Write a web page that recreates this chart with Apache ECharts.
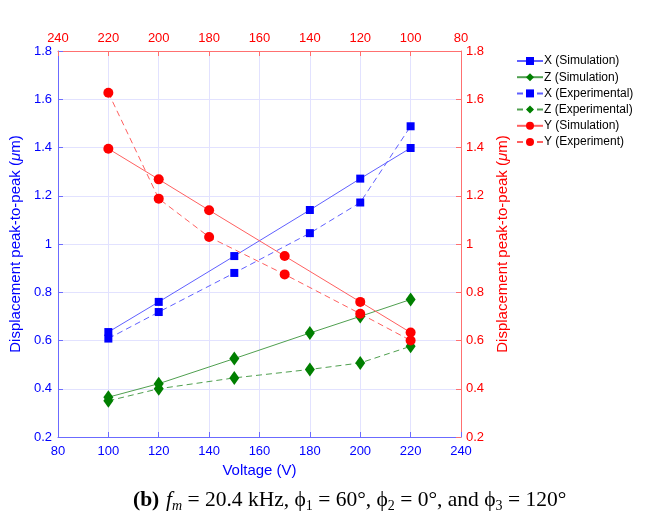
<!DOCTYPE html>
<html>
<head>
<meta charset="utf-8">
<script src="https://cdn.jsdelivr.net/npm/echarts@6/dist/echarts.min.js"></script>
<style>
  html, body { margin: 0; padding: 0; background: #fff; }
  #demo { width: 646px; height: 519px; }
</style>
</head>
<body>
<div id="demo"></div>
<script>
// 底部电压轴 (X, Z)
var voltageBottom = [100, 120, 150, 180, 200, 220];
var xSim = [0.635, 0.76, 0.95, 1.141, 1.271, 1.398];
var xExp = [0.608, 0.718, 0.88, 1.045, 1.172, 1.488];
var zSim = [0.365, 0.421, 0.525, 0.631, 0.70, 0.77];
var zExp = [0.35, 0.40, 0.445, 0.48, 0.507, 0.576];
// 顶部电压轴 (Y)
var voltageTop = [220, 200, 180, 150, 120, 100];
var ySim = [1.395, 1.268, 1.14, 0.95, 0.76, 0.633];
var yExp = [1.627, 1.188, 1.029, 0.874, 0.711, 0.60];

var seriesNames = ['X (Simulation)', 'Z (Simulation)', 'X (Experimental)',
                   'Z (Experimental)', 'Y (Simulation)', 'Y (Experiment)'];

function pairs(xs, ys) {
    var out = [];
    for (var i = 0; i < xs.length; i++) {
        out.push([xs[i], ys[i]]);
    }
    return out;
}

var BLUE = '#0000ff';
var RED = '#ff0000';
var GREEN = '#007f00';
var FONT = 'Liberation Sans';

function makeSeries(name, data, color, lineColor, dashed, symbol, size, top) {
    return {
        name: name,
        type: 'line',
        xAxisIndex: top ? 1 : 0,
        yAxisIndex: top ? 1 : 0,
        data: data,
        symbol: symbol,
        symbolSize: size,
        showAllSymbol: true,
        itemStyle: { color: color },
        lineStyle: { color: lineColor, width: 1, type: dashed ? [6, 4] : 'solid' },
        animation: false
    };
}

var chartDom = document.getElementById('demo');
var myChart = echarts.init(chartDom);
var option = {
    backgroundColor: '#fff',
    grid: { left: 56, top: 51, width: 405, height: 386 },
    legend: {
        orient: 'vertical',
        left: 516,
        top: 55,
        padding: 0,
        itemWidth: 26,
        itemHeight: 10,
        itemGap: 4.2,
        textStyle: { fontFamily: FONT, fontSize: 12, color: '#000', padding: [0, 0, 0, -4] },
        data: seriesNames
    },
    xAxis: [
        {
            type: 'value', position: 'bottom', min: 80, max: 240, interval: 20,
            name: 'Voltage (V)', nameLocation: 'middle', nameGap: 26,
            nameTextStyle: { color: BLUE, fontFamily: FONT, fontSize: 15 },
            axisLine: { lineStyle: { color: '#6b6bff', width: 1 } },
            axisTick: { inside: true, length: 5, lineStyle: { color: '#6b6bff' } },
            axisLabel: { color: BLUE, fontFamily: FONT, fontSize: 13, margin: 8 },
            splitLine: { show: true, lineStyle: { color: '#e2e2ff', width: 1 } }
        },
        {
            type: 'value', position: 'top', min: 80, max: 240, interval: 20, inverse: true,
            axisLine: { lineStyle: { color: '#ff7070', width: 1 } },
            axisTick: { inside: true, length: 5, lineStyle: { color: '#ff7070' } },
            axisLabel: { color: RED, fontFamily: FONT, fontSize: 13, margin: 6 },
            splitLine: { show: false }
        }
    ],
    yAxis: [
        {
            type: 'value', position: 'left', min: 0.2, max: 1.8, interval: 0.2,
            name: 'Displacement peak-to-peak ({i|μ}m)', nameLocation: 'middle', nameGap: 29,
            nameTextStyle: {
                color: BLUE, fontFamily: FONT, fontSize: 15,
                rich: { i: { color: BLUE, fontFamily: FONT, fontSize: 15, fontStyle: 'italic' } }
            },
            axisLine: { show: true, lineStyle: { color: '#6b6bff', width: 1 } },
            axisTick: { show: true, inside: true, length: 5, lineStyle: { color: '#6b6bff' } },
            axisLabel: { color: BLUE, fontFamily: FONT, fontSize: 13, margin: 6 },
            splitLine: { show: true, lineStyle: { color: '#e2e2ff', width: 1 } }
        },
        {
            type: 'value', position: 'right', min: 0.2, max: 1.8, interval: 0.2,
            name: 'Displacement peak-to-peak ({i|μ}m)', nameLocation: 'middle', nameGap: 28,
            nameTextStyle: {
                color: RED, fontFamily: FONT, fontSize: 15,
                rich: { i: { color: RED, fontFamily: FONT, fontSize: 15, fontStyle: 'italic' } }
            },
            axisLine: { show: true, lineStyle: { color: '#ff7070', width: 1 } },
            axisTick: { show: true, inside: true, length: 5, lineStyle: { color: '#ff7070' } },
            axisLabel: { color: RED, fontFamily: FONT, fontSize: 13, margin: 5 },
            splitLine: { show: false }
        }
    ],
    series: [
        makeSeries(seriesNames[0], pairs(voltageBottom, xSim), BLUE, '#6060ff', false, 'rect', 8, false),
        makeSeries(seriesNames[1], pairs(voltageBottom, zSim), GREEN, '#50a050', false, 'diamond', [10, 14], false),
        makeSeries(seriesNames[2], pairs(voltageBottom, xExp), BLUE, '#6060ff', true, 'rect', 8, false),
        makeSeries(seriesNames[3], pairs(voltageBottom, zExp), GREEN, '#50a050', true, 'diamond', [10, 14], false),
        makeSeries(seriesNames[4], pairs(voltageTop, ySim), RED, '#ff6060', false, 'circle', 10, true),
        makeSeries(seriesNames[5], pairs(voltageTop, yExp), RED, '#ff6060', true, 'circle', 10, true)
    ],
    graphic: [
        {
            type: 'text',
            left: 133,
            top: 489,
            style: {
                text: '{b|(b)}  {i|f}{si|m}{n| = 20.4 kHz, ϕ}{s|1}{n| = 60°, ϕ}{s|2}{n| = 0°, and ϕ}{s|3}{n| = 120°}',
                rich: {
                    b: { fontFamily: 'Liberation Serif', fontSize: 21.5, fontWeight: 'bold', fill: '#000', lineHeight: 26 },
                    i: { fontFamily: 'Liberation Serif', fontSize: 21.5, fontStyle: 'italic', fill: '#000', lineHeight: 26 },
                    n: { fontFamily: 'Liberation Serif', fontSize: 21.5, fill: '#000', lineHeight: 26 },
                    si: { fontFamily: 'Liberation Serif', fontSize: 14, fontStyle: 'italic', fill: '#000', verticalAlign: 'bottom', lineHeight: 14 },
                    s: { fontFamily: 'Liberation Serif', fontSize: 14, fill: '#000', verticalAlign: 'bottom', lineHeight: 14 }
                }
            }
        }
    ]
};
option && myChart.setOption(option);
</script>
</body>
</html>
